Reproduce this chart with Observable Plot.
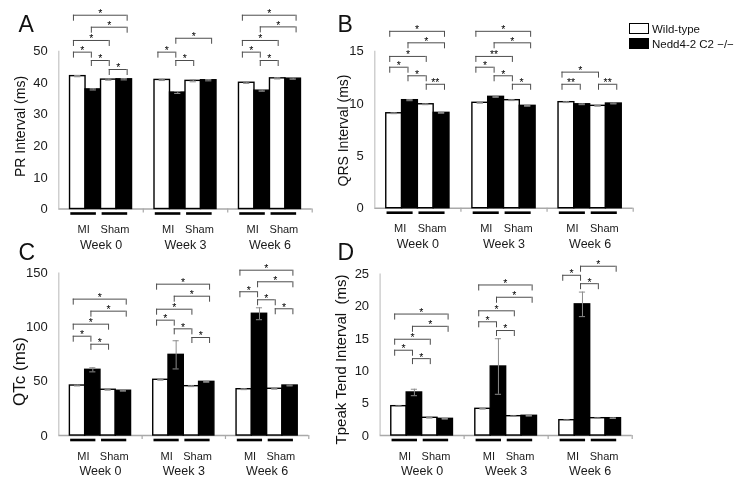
<!DOCTYPE html>
<html><head><meta charset="utf-8">
<script src="https://cdn.jsdelivr.net/npm/d3@7"></script>
<script src="https://cdn.jsdelivr.net/npm/@observablehq/plot@0.6"></script>
<style>
body{margin:0;background:#fff;}
#root{position:relative;width:750px;height:486px;overflow:hidden;font-family:"Liberation Sans",Arial,sans-serif;background:#fff;}
.panel{position:absolute;filter:grayscale(100%);}
.legend{position:absolute;left:629px;top:21px;font-size:11.5px;color:#111;font-family:"Liberation Sans",Arial,sans-serif;filter:grayscale(100%);}
.legend .row{position:relative;height:15px;display:flex;align-items:center;}
.legend .sw{box-sizing:border-box;width:20px;height:11px;border:1.5px solid #000;margin-right:3px;}
</style></head>
<body><div id="root"></div>
<script>
// ---------- data ----------
const weeks = ["Week 0", "Week 3", "Week 6"];
const surgeries = ["MI", "Sham"];
const genotypes = ["Wild-type", "Nedd4-2 C2 \u2212/\u2212"];
const genotypeColors = ["white", "black"];
const bars = ["WT MI", "KO MI", "WT Sham", "KO Sham"];
const barGenotype = [0, 1, 0, 1];

// means per week (rows) in bar order
const prMean  = [[42.1, 37.9, 41.0, 41.1], [40.9, 36.9, 40.6, 40.8], [40.0, 37.5, 41.4, 41.3]];
const prErr   = [[0.2, 0.2, 0.2, 0.2], [0.2, 0.3, 0.3, 0.2], [0.2, 0.2, 0.2, 0.2]];
const qrsMean = [[9.07, 10.32, 9.93, 9.11], [10.07, 10.64, 10.32, 9.78], [10.13, 9.93, 9.78, 10.0]];
const qrsErr  = [[0.04, 0.05, 0.04, 0.04], [0.04, 0.05, 0.04, 0.04], [0.04, 0.04, 0.04, 0.04]];
const qtcMean = [[46.1, 60.6, 42.2, 41.3], [51.4, 74.4, 45.5, 49.5], [42.7, 112.3, 43.1, 46.1]];
const qtcErr  = [[0.4, 1.9, 0.4, 0.4], [0.4, 13.0, 0.4, 0.4], [0.4, 5.5, 0.4, 0.4]];
const tpteMean = [[4.54, 6.66, 2.74, 2.58], [4.13, 10.68, 2.99, 3.05], [2.37, 20.3, 2.68, 2.68]];
const tpteErr  = [[0.05, 0.5, 0.05, 0.05], [0.05, 4.3, 0.05, 0.05], [0.05, 1.9, 0.05, 0.05]];

// significance brackets: [week index, from bar, to bar, bracket level (axis units), label]
const prBrackets = [
  [0,0,3,61.4,"*"],[0,1,3,57.6,"*"],[0,0,2,53.4,"*"],[0,0,1,49.7,"*"],[0,1,2,47.05,"*"],[0,2,3,44.2,"*"],
  [1,1,3,54.1,"*"],[1,0,1,49.7,"*"],[1,1,2,47.05,"*"],
  [2,0,3,61.4,"*"],[2,1,3,57.7,"*"],[2,0,2,53.4,"*"],[2,0,1,49.7,"*"],[2,1,2,47.05,"*"]
];
const qrsBrackets = [
  [0,0,3,16.9,"*"],[0,1,3,15.8,"*"],[0,0,2,14.5,"*"],[0,0,1,13.47,"*"],[0,1,2,12.65,"*"],[0,2,3,11.84,"**"],
  [1,0,3,16.9,"*"],[1,1,3,15.8,"*"],[1,0,2,14.5,"**"],[1,0,1,13.47,"*"],[1,1,2,12.65,"*"],[1,2,3,11.84,"*"],
  [2,0,2,13.0,"*"],[2,0,1,11.84,"**"],[2,2,3,11.84,"**"]
];
const qtcBrackets = [
  [0,0,3,125.8,"*"],[0,1,3,114.7,"*"],[0,0,2,102.7,"*"],[0,0,1,91.6,"*"],[0,1,2,84.2,"*"],
  [1,0,3,139.6,"*"],[1,1,3,128.5,"*"],[1,0,2,116.5,"*"],[1,0,1,106.4,"*"],[1,1,2,98.4,"*"],[1,2,3,90.4,"*"],
  [2,0,3,152.5,"*"],[2,1,3,141.8,"*"],[2,0,1,132.6,"*"],[2,1,2,125.2,"*"],[2,2,3,116.9,"*"]
];
const tpteBrackets = [
  [0,0,3,18.8,"*"],[0,1,3,16.9,"*"],[0,0,2,14.9,"*"],[0,0,1,13.2,"*"],[0,1,2,11.9,"*"],
  [1,0,3,23.3,"*"],[1,1,3,21.4,"*"],[1,0,2,19.3,"*"],[1,0,1,17.6,"*"],[1,1,2,16.25,"*"],
  [2,1,3,26.2,"*"],[2,0,1,24.8,"*"],[2,1,2,23.5,"*"]
];

const prTicks = [0, 10, 20, 30, 40, 50];
const qrsTicks = [0, 5, 10, 15];
const qtcTicks = [0, 50, 100, 150];
const tpteTicks = [0, 5, 10, 15, 20, 25];

// ---------- layout ----------
const PAD = 0.725, SLOT = 4 + 2 * PAD;      // x in bar-width units
const BR0 = 0.22, BRSTEP = 1.155, LEG = 6;   // bracket geometry
const FONT = "'Liberation Sans', Arial, sans-serif";
const AXIS_GRAY = "#a9a9a9";
const BRACKET = "#4d4d4d";
const barX = (g, k) => g * SLOT + PAD + k;
const brX = (g, k) => g * SLOT + PAD + BR0 + BRSTEP * k;

function makePanel(cfg) {
  const {means, errs, brackets, ticks, label, letter, left, top, width, height, mL, mR, mT, mB, labelPos, labelSize, letterPos} = cfg;
  const yMax = ticks[ticks.length - 1];
  const barsData = [];
  means.forEach((row, g) => row.forEach((v, k) => barsData.push({
    g, k, week: weeks[g], bar: bars[k], genotype: genotypes[barGenotype[k]], value: v, err: errs[g][k]
  })));
  const under = [];
  weeks.forEach((w, g) => surgeries.forEach((s, j) => under.push({
    g, surgery: s,
    x1: g * SLOT + PAD + (j ? 2.07 : 0.05),
    x2: g * SLOT + PAD + (j ? 3.72 : 1.70),
    mid: g * SLOT + PAD + (j ? 2.9 : 0.88)
  })));
  const br = brackets.map(([g, a, b, y, t]) => ({g, a, b, y, t}));
  const legs = br.flatMap(d => [{x: brX(d.g, d.a), y: d.y}, {x: brX(d.g, d.b), y: d.y}]);
  const frameMidY = (mT + (height - mB)) / 2;
  const at = (px, py) => ({frameAnchor: "top-left", dx: px - left - mL, dy: py - top - mT});

  const svg = Plot.plot({
    width, height, marginLeft: mL, marginRight: mR, marginTop: mT, marginBottom: mB,
    style: {fontFamily: FONT, fontSize: "13px", background: "transparent", overflow: "visible", color: "#1a1a1a"},
    x: {domain: [0, 3 * SLOT], axis: null},
    y: {domain: [0, yMax], ticks, tickSize: 0, tickPadding: 11, label: null},
    color: {domain: genotypes, range: genotypeColors},
    marks: [
      // axis lines
      Plot.ruleX([0], {y1: () => 0, y2: () => yMax, stroke: "#c4c4c4", strokeWidth: 1.2}),
      Plot.ruleY([0], {stroke: AXIS_GRAY, strokeWidth: 1.6}),
      Plot.ruleX([1, 2, 3].map(g => g * SLOT), {y1: () => 0, y2: () => 0, insetBottom: -4, stroke: AXIS_GRAY, strokeWidth: 1.2}),
      // bars
      Plot.rectY(barsData, {x1: d => barX(d.g, d.k), x2: d => barX(d.g, d.k) + 1, y1: () => 0, y2: "value",
        fill: "genotype", stroke: "black", strokeWidth: 1.4}),
      // error bars
      Plot.ruleX(barsData, {x: d => barX(d.g, d.k) + 0.5, y1: d => d.value - d.err, y2: d => d.value + d.err, stroke: "#8c8c8c", strokeWidth: 1}),
      Plot.ruleY(barsData, {x1: d => barX(d.g, d.k) + 0.3, x2: d => barX(d.g, d.k) + 0.7, y: d => d.value + d.err, stroke: "#8c8c8c", strokeWidth: 1}),
      Plot.ruleY(barsData, {x1: d => barX(d.g, d.k) + 0.3, x2: d => barX(d.g, d.k) + 0.7, y: d => d.value - d.err, stroke: "#8c8c8c", strokeWidth: 1}),
      // group underlines and labels
      Plot.ruleY(under, {y: () => 0, x1: "x1", x2: "x2", dy: 4.5, stroke: "black", strokeWidth: 2.6}),
      Plot.text(under, {x: "mid", y: () => 0, dy: 20.5, text: "surgery", fontSize: 11}),
      Plot.text(weeks, {x: (d, i) => i * SLOT + SLOT / 2, y: () => 0, dy: 35.5, text: d => d, fontSize: 12.5}),
      // significance brackets
      Plot.ruleY(br, {y: "y", x1: d => brX(d.g, d.a), x2: d => brX(d.g, d.b), stroke: BRACKET, strokeWidth: 1}),
      Plot.ruleX(legs, {x: "x", y1: "y", y2: "y", insetBottom: -LEG, stroke: BRACKET, strokeWidth: 1}),
      Plot.text(br, {x: d => (brX(d.g, d.a) + brX(d.g, d.b)) / 2, y: "y", text: "t", dy: -1.5, fontSize: 10.5, fill: "black"}),
      // axis title and panel letter
      Plot.text([label], {frameAnchor: "left", textAnchor: "middle", lineAnchor: "middle", rotate: -90,
        dx: labelPos[0] - left - mL, dy: labelPos[1] - top - frameMidY, fontSize: labelSize, fill: "#111"}),
      Plot.text([letter], {...at(letterPos[0], letterPos[1] - 0.32 * 23), textAnchor: "start", lineAnchor: "middle", fontSize: 23, fill: "#111"})
    ]
  });
  const wrap = document.createElement("div");
  wrap.className = "panel";
  wrap.style.left = left + "px";
  wrap.style.top = top + "px";
  wrap.appendChild(svg);
  document.getElementById("root").appendChild(wrap);
}

makePanel({means: prMean, errs: prErr, brackets: prBrackets, ticks: prTicks, label: "PR Interval (ms)", letter: "A",
  left: 0, top: 0, width: 375, height: 250, mL: 58.3, mR: 63.3, mT: 50.7, mB: 41.5,
  labelPos: [20, 126], labelSize: 14, letterPos: [18, 31.7]});
makePanel({means: qrsMean, errs: qrsErr, brackets: qrsBrackets, ticks: qrsTicks, label: "QRS Interval (ms)", letter: "B",
  left: 320, top: 0, width: 430, height: 250, mL: 54.3, mR: 117.3, mT: 50.7, mB: 42.3,
  labelPos: [343, 130], labelSize: 14, letterPos: [337, 31.7]});
makePanel({means: qtcMean, errs: qtcErr, brackets: qtcBrackets, ticks: qtcTicks, label: "QTc (ms)", letter: "C",
  left: 0, top: 250, width: 375, height: 236, mL: 58.3, mR: 66.7, mT: 22.4, mB: 51,
  labelPos: [19, 371], labelSize: 17, letterPos: [18, 259.5]});
makePanel({means: tpteMean, errs: tpteErr, brackets: tpteBrackets, ticks: tpteTicks, label: "Tpeak Tend Interval  (ms)", letter: "D",
  left: 320, top: 250, width: 430, height: 236, mL: 59.6, mR: 118.3, mT: 23.5, mB: 51,
  labelPos: [341, 359], labelSize: 15, letterPos: [337, 259.5]});

// legend
const legend = document.createElement("div");
legend.className = "legend";
genotypes.forEach((gname, i) => {
  const row = document.createElement("div");
  row.className = "row";
  const sw = document.createElement("div");
  sw.className = "sw";
  sw.style.background = genotypeColors[i];
  const tx = document.createElement("span");
  tx.textContent = gname;
  row.appendChild(sw); row.appendChild(tx);
  legend.appendChild(row);
});
document.getElementById("root").appendChild(legend);
</script>
</body></html>
